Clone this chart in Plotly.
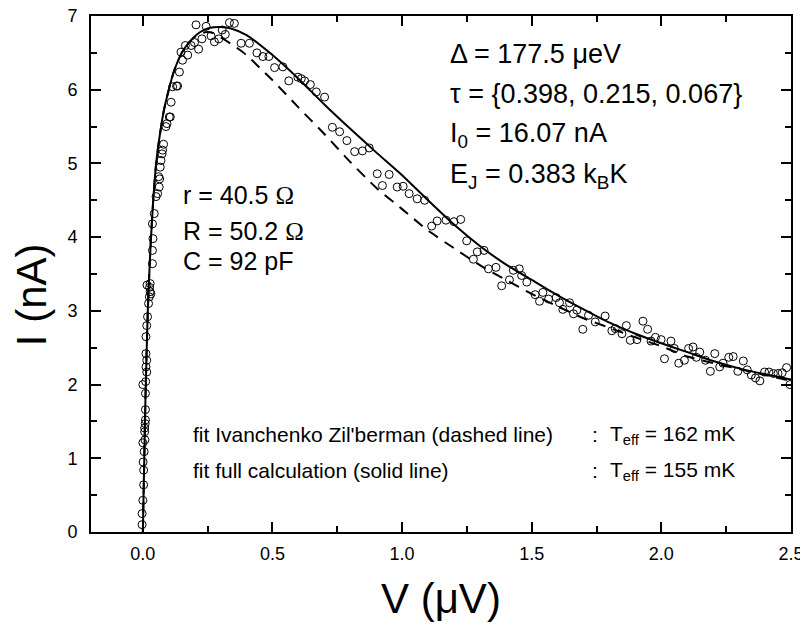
import plotly.graph_objects as go

# ---- measured data (open circles) ----
meas_v = [-0.003, -0.003, 0.0, 0.003, 0.003, 0.001, 0.005, 0.0, 0.008, 0.007, 0.007, 0.009, 0.010, 0.010,
          0.010, 0.0, 0.011, 0.015, 0.012, 0.015, 0.012, 0.012, 0.015, 0.018, 0.022, 0.025, 0.028, 0.026,
          0.028, 0.016, 0.031, 0.037, 0.037, 0.039, 0.037, 0.044, 0.051, 0.057, 0.063, 0.061, 0.065, 0.067,
          0.070, 0.074, 0.076, 0.080, 0.089, 0.093, 0.102, 0.106, 0.109, 0.115, 0.130, 0.134, 0.141, 0.147,
          0.153, 0.164, 0.173, 0.186, 0.199, 0.205, 0.215, 0.228, 0.244, 0.263, 0.276, 0.293, 0.306, 0.318,
          0.334, 0.353, 0.379, 0.411, 0.440, 0.463, 0.486, 0.508, 0.540, 0.563, 0.598, 0.611, 0.624, 0.646,
          0.669, 0.701, 0.731, 0.759, 0.787, 0.817, 0.847, 0.873, 0.904, 0.924, 0.950, 0.981, 1.004, 1.027,
          1.058, 1.087, 1.114, 1.135, 1.169, 1.200, 1.226, 1.249, 1.275, 1.290, 1.316, 1.333, 1.362, 1.384,
          1.414, 1.429, 1.452, 1.461, 1.481, 1.513, 1.530, 1.543, 1.565, 1.594, 1.607, 1.620, 1.646, 1.661,
          1.674, 1.697, 1.719, 1.745, 1.783, 1.809, 1.822, 1.848, 1.865, 1.880, 1.906, 1.929, 1.947, 1.960,
          1.977, 1.999, 2.012, 2.037, 2.050, 2.067, 2.089, 2.105, 2.122, 2.135, 2.148, 2.170, 2.189, 2.206,
          2.225, 2.238, 2.260, 2.277, 2.295, 2.316, 2.331, 2.347, 2.363, 2.380, 2.398, 2.415, 2.432, 2.450,
          2.466, 2.483, 2.496]
meas_i = [0.10, 0.25, 0.43, 0.64, 0.84, 0.95, 1.09, 1.21, 1.25, 1.36, 1.41, 1.47, 1.52, 1.66,
          1.88, 2.00, 2.04, 2.17, 2.24, 2.33, 2.42, 2.65, 2.80, 2.92, 3.10, 3.19, 3.26, 3.32,
          3.37, 3.35, 3.23, 3.64, 3.82, 3.98, 4.18, 4.32, 4.55, 4.59, 4.68, 4.82, 4.79, 4.95,
          5.04, 5.13, 5.18, 5.26, 5.50, 5.54, 5.63, 5.63, 5.83, 6.04, 6.05, 6.05, 6.24, 6.51,
          6.40, 6.60, 6.47, 6.60, 6.64, 6.88, 6.55, 6.69, 6.86, 6.73, 6.65, 6.69, 6.81, 6.75,
          6.91, 6.90, 6.63, 6.63, 6.50, 6.45, 6.45, 6.30, 6.31, 6.12, 6.17, 6.15, 6.12, 6.07,
          5.97, 5.90, 5.49, 5.43, 5.31, 5.16, 5.17, 5.21, 4.86, 4.70, 4.85, 4.68, 4.69, 4.59,
          4.52, 4.50, 4.15, 4.22, 4.23, 4.21, 4.24, 3.95, 3.70, 3.80, 3.82, 3.57, 3.59, 3.34,
          3.42, 3.55, 3.57, 3.48, 3.39, 3.22, 3.13, 3.25, 3.16, 3.18, 3.11, 3.02, 3.11, 2.96,
          3.01, 2.75, 2.94, 2.85, 2.93, 2.73, 2.76, 2.69, 2.80, 2.60, 2.61, 2.86, 2.75, 2.59,
          2.64, 2.61, 2.35, 2.59, 2.49, 2.29, 2.33, 2.49, 2.51, 2.37, 2.44, 2.33, 2.18, 2.42,
          2.24, 2.29, 2.37, 2.38, 2.18, 2.32, 2.20, 2.13, 2.09, 2.05, 2.17, 2.17, 2.15, 2.15,
          2.16, 2.23, 2.00]

# ---- fit: full calculation (solid line) ----
full_v = [0.0, 0.005, 0.01, 0.015, 0.02, 0.03, 0.04, 0.05, 0.06, 0.08, 0.10, 0.12, 0.15, 0.18, 0.22,
          0.26, 0.30, 0.34, 0.40, 0.50, 0.60, 0.70, 0.80, 0.90, 1.00, 1.10, 1.20, 1.30, 1.40, 1.50,
          1.60, 1.70, 1.80, 1.90, 2.00, 2.10, 2.20, 2.30, 2.40, 2.50]
full_i = [0.0, 0.9, 1.8, 2.5, 3.1, 3.9, 4.5, 4.95, 5.25, 5.7, 6.0, 6.25, 6.5, 6.65, 6.78,
          6.84, 6.85, 6.83, 6.74, 6.47, 6.15, 5.80, 5.47, 5.15, 4.84, 4.50, 4.17, 3.88, 3.63, 3.42,
          3.21, 3.02, 2.84, 2.69, 2.56, 2.44, 2.32, 2.22, 2.14, 2.07]

# ---- fit: Ivanchenko-Zil'berman (dashed line) ----
iz_v = [0.0, 0.005, 0.01, 0.015, 0.02, 0.03, 0.04, 0.05, 0.06, 0.08, 0.10, 0.12, 0.15, 0.18, 0.21,
        0.24, 0.27, 0.30, 0.35, 0.40, 0.45, 0.50, 0.60, 0.70, 0.80, 0.90, 1.00, 1.10, 1.20, 1.30,
        1.40, 1.50, 1.60, 1.70, 1.80, 1.90, 2.00, 2.10, 2.20, 2.30, 2.40, 2.50]
iz_i = [0.0, 0.9, 1.8, 2.5, 3.1, 3.9, 4.5, 4.95, 5.25, 5.7, 6.0, 6.25, 6.5, 6.65, 6.74,
        6.78, 6.77, 6.71, 6.60, 6.47, 6.30, 6.13, 5.76, 5.40, 5.02, 4.67, 4.38, 4.09, 3.85, 3.62,
        3.42, 3.23, 3.06, 2.90, 2.77, 2.64, 2.52, 2.38, 2.29, 2.21, 2.13, 2.05]

x_ticks = [0.0, 0.5, 1.0, 1.5, 2.0, 2.5]
x_tick_labels = ["0.0", "0.5", "1.0", "1.5", "2.0", "2.5"]
y_ticks = [0, 1, 2, 3, 4, 5, 6, 7]

FONT = "Liberation Sans, Arial, sans-serif"
OMEGA = '<span style="font-family:Liberation Serif, Times New Roman, serif">Ω</span>'

fig = go.Figure()
fig.add_trace(go.Scatter(x=meas_v, y=meas_i, mode="markers",
                         marker=dict(symbol="circle-open", size=8, color="black", line=dict(width=1)),
                         showlegend=False))
fig.add_trace(go.Scatter(x=iz_v, y=iz_i, mode="lines",
                         line=dict(color="black", width=2, dash="11px,8px", shape="spline", smoothing=0.6),
                         showlegend=False))
fig.add_trace(go.Scatter(x=full_v, y=full_i, mode="lines",
                         line=dict(color="black", width=2, shape="spline", smoothing=0.6),
                         showlegend=False))

axis_common = dict(showline=True, linecolor="black", linewidth=2, mirror="allticks",
                   ticks="inside", ticklen=10, tickwidth=2, tickcolor="black",
                   showgrid=False, zeroline=False, automargin=False, ticklabeloverflow="allow",
                   tickfont=dict(family=FONT, size=18, color="black"))

fig.update_xaxes(range=[-0.2, 2.5], tickvals=x_ticks, ticktext=x_tick_labels,
                 minor=dict(dtick=0.25, tick0=0, ticks="inside", ticklen=6, tickwidth=2, tickcolor="black"),
                 ticklabelstandoff=4, **axis_common)
fig.update_yaxes(range=[0, 7], tickvals=y_ticks,
                 minor=dict(dtick=0.5, tick0=0, ticks="inside", ticklen=6, tickwidth=2, tickcolor="black"),
                 ticklabelstandoff=8, **axis_common)

ann = []
def add(text, x, y, size, xanchor="left", xref="x", yref="y", angle=0):
    ann.append(dict(text=text, x=x, y=y, xref=xref, yref=yref, xanchor=xanchor, yanchor="middle",
                    showarrow=False, textangle=angle, font=dict(family=FONT, size=size, color="black")))

add("Δ = 177.5 μeV", 1.177, 6.48, 27)
add("τ = {0.398, 0.215, 0.067}", 1.177, 5.94, 27)
add("I<sub>0</sub> = 16.07 nA", 1.177, 5.38, 27)
add("E<sub>J</sub> = 0.383 k<sub>B</sub>K", 1.177, 4.83, 27)

add("r = 40.5 " + OMEGA, 0.147, 4.57, 25)
add("R = 50.2 " + OMEGA, 0.147, 4.08, 25)
add("C = 92 pF", 0.147, 3.67, 25)

add("fit Ivanchenko Zil'berman (dashed line)", 0.186, 1.32, 21)
add("fit full calculation (solid line)", 0.186, 0.83, 21)
add(":", 1.726, 1.32, 21)
add(":", 1.726, 0.83, 21)
add("T<sub>eff</sub> = 162 mK", 1.795, 1.32, 21)
add("T<sub>eff</sub> = 155 mK", 1.795, 0.83, 21)

add("V (μV)", 0.5, -0.128, 42, xanchor="center", xref="paper", yref="paper")
add("I (nA)", -0.085, 0.46, 42, xanchor="center", xref="paper", yref="paper", angle=-90)

# page body has an 8px default margin, so the figure is 800x620 to fill the 808x628 window
fig.update_layout(width=800, height=620, margin=dict(l=83, r=17, t=8, b=96),
                  paper_bgcolor="white", plot_bgcolor="white", annotations=ann,
                  font=dict(family=FONT, color="black"))

fig.write_html("out.html")
